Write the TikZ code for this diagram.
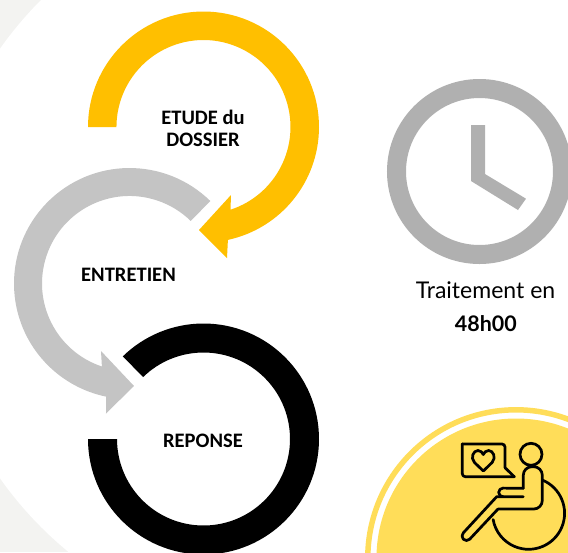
\documentclass[tikz,border=0pt]{standalone}
\usepackage{fontspec}
\setmainfont{Carlito}
\newfontfamily\latofont{Lato}
\definecolor{ringyellow}{HTML}{FFBF00}
\definecolor{ringgray}{HTML}{C4C4C4}
\definecolor{clockgray}{HTML}{B0B0B0}
\definecolor{bggray}{HTML}{F3F3F1}
\definecolor{badgeyellow}{HTML}{FFDD59}
\tikzset{
	steplabel/.style={font=\fontsize{11.7}{12.6}\selectfont\bfseries,text=black,inner sep=0pt},
	sidelabel/.style={font=\latofont\fontsize{13.1}{15}\selectfont,text=black,inner sep=0pt},
	iconline/.style={draw=black,line width=1.55pt,line join=round,line cap=round}
}
\begin{document}
\begin{tikzpicture}[x=2cm,y=2cm]
	\useasboundingbox (0,0) rectangle (5.68,-5.52);
	\clip (0,0) rectangle (5.68,-5.52);
	% background
	\fill[bggray] (0,0) rectangle (1.5,-5.52);
	\fill[white] (3.05,-2.635) circle (3.73);
	% step rings
	\fill[ringyellow] (0.88,-1.27) arc (180:-77.8:1.155) -- (2.27,-2.58) -- (1.99,-2.30) -- (2.31,-1.95) -- (2.305,-2.097) arc (-71.9:180:0.87) -- cycle;
	\fill[ringgray] (2.103,-2.01) arc (45.6:258.3:1.155) -- (1.06,-4.135) -- (1.34,-3.86) -- (1.01,-3.51) -- (1.019,-3.665) arc (251.6:45.6:0.875) -- cycle;
	\fill[black] (0.88,-4.39) arc (180:494.3:1.155) -- (1.431,-3.771) arc (494.3:180:0.865) -- cycle;
	\node[steplabel,align=center] (etude) at (2.03,-1.28) {ETUDE du\\DOSSIER};
	\node[steplabel] (entretien) at (1.285,-2.75) {ENTRETIEN};
	\node[steplabel] (reponse) at (2.03,-4.41) {REPONSE};
	% clock
	\draw[clockgray,line width=0.38cm] (4.795,-1.715) circle (0.83);
	\fill[clockgray] (4.71,-1.25) -- (4.85,-1.25) -- (4.85,-1.74) -- (5.26,-1.987) -- (5.18,-2.10) -- (4.71,-1.81) -- cycle;
	\node[sidelabel] (delay) at (4.855,-2.90) {Traitement en};
	\node[sidelabel,font=\latofont\fontsize{12.2}{15}\selectfont\bfseries] (hours) at (4.858,-3.24) {48h00};
	% badge
	\draw[badgeyellow,line width=0.11cm] (5.16,-5.58) circle (1.482);
	\fill[badgeyellow] (5.16,-5.58) circle (1.395);
	% icon
	\draw[iconline,rounded corners=0.06cm] (4.623,-4.44) -- (5.05,-4.44) -- (5.05,-4.677);
	\draw[iconline] (5.05,-4.677) -- (5.143,-4.767);
	\draw[iconline,rounded corners=0.06cm] (5.143,-4.767) -- (4.623,-4.767) -- (4.623,-4.44);
	\draw[iconline] (4.833,-4.71) -- (4.745,-4.625) .. controls (4.70,-4.575) and (4.735,-4.505) .. (4.78,-4.505) .. controls (4.805,-4.505) and (4.825,-4.525) .. (4.833,-4.545) .. controls (4.841,-4.525) and (4.861,-4.505) .. (4.886,-4.505) .. controls (4.931,-4.505) and (4.966,-4.575) .. (4.921,-4.625) -- cycle;
	\draw[iconline] (5.31,-4.543) circle (0.11);
	\draw[iconline,rounded corners=0.17cm] (5.233,-4.883) -- (5.233,-4.667) -- (5.423,-4.667) -- (5.423,-5.09) -- (4.98,-5.09);
	\draw[iconline] (4.98,-5.09) -- (4.697,-5.392) arc (-45:-225:0.045) -- (4.967,-4.967) -- (5.233,-4.967);
	\draw[iconline] (5.03,-4.967) arc (270:90:0.043) -- (5.233,-4.883);
	\draw[iconline] (5.423,-4.80) arc (67.6:-170:0.36);
\end{tikzpicture}
\end{document}
